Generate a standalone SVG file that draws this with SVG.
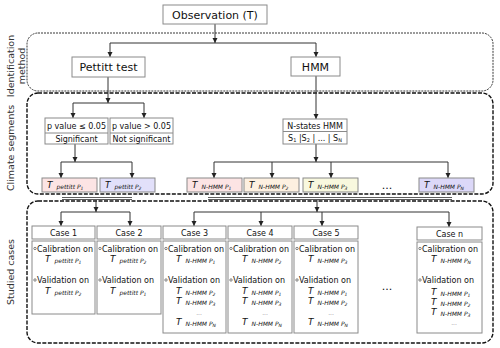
<svg xmlns="http://www.w3.org/2000/svg" width="500" height="348" viewBox="0 0 500 348">
<defs>
<style>
text{font-family:"DejaVu Sans","Liberation Sans",sans-serif;fill:#111}
.box{fill:#fff;stroke:#8a8a8a;stroke-width:1}
.big{font-size:11px;text-anchor:middle}
.sm{font-size:8px;text-anchor:middle}
.side{font-size:9.5px;text-anchor:middle;fill:#333}
.lbl{font-size:8px}
.T{font-size:9px;font-style:italic}
.sub{font-size:6px;font-style:italic}
.ss{font-size:4.5px;font-style:italic}
.dots{font-size:6px;fill:#888;text-anchor:middle}
.con{fill:none;stroke:#333;stroke-width:1}
.ul{fill:none;stroke:#333;stroke-width:0.8}
.arr{marker-end:url(#ah)}
.grp1{fill:none;stroke:#222;stroke-width:0.9;stroke-dasharray:2,1}
.grp2{fill:none;stroke:#111;stroke-width:1.4;stroke-dasharray:4,1.5}
.bul{fill:#fff;stroke:#333;stroke-width:0.6}
</style>
<marker id="ah" markerWidth="5" markerHeight="6" refX="5" refY="3" orient="auto" markerUnits="userSpaceOnUse">
<path d="M0,0.5 L5,3 L0,5.5 z" fill="#222"/>
</marker>
</defs>

<!-- group frames -->
<g id="frames">
<rect class="grp1" x="27" y="33" width="466" height="58" rx="11"/>
<rect class="grp2" x="27" y="93" width="466" height="101" rx="11"/>
<rect class="grp2" x="27" y="201" width="466" height="142" rx="11"/>
<text class="side" transform="translate(14,66) rotate(-90)">Identification</text>
<text class="side" transform="translate(25,66) rotate(-90)">method</text>
<text class="side" transform="translate(14,148) rotate(-90)">Climate segments</text>
<text class="side" transform="translate(14,272) rotate(-90)">Studied cases</text>
</g>

<g id="connectors">
<path class="con arr" d="M215,24 V43"/>
<path class="con" d="M110,43 H316"/>
<path class="con arr" d="M110,43 V57"/>
<path class="con arr" d="M316,43 V57"/>
<path class="con arr" d="M108,77 V103"/>
<path class="con" d="M73,103 H144"/>
<path class="con arr" d="M73,103 V118"/>
<path class="con arr" d="M144,103 V118"/>
<path class="con arr" d="M316,76 V119"/>
<path class="con arr" d="M75,144 V162"/>
<path class="con" d="M61,162 H132"/>
<path class="con arr" d="M61,162 V178"/>
<path class="con arr" d="M132,162 V178"/>
<path class="con arr" d="M316,144 V162"/>
<path class="con" d="M214,162 H448"/>
<path class="con arr" d="M214,162 V178"/>
<path class="con arr" d="M272,162 V178"/>
<path class="con arr" d="M331,162 V178"/>
<path class="con arr" d="M448,162 V178"/>
<path class="ul" d="M62,197.5 H132 M62,199.5 H132"/>
<path class="ul" d="M208,197.5 H452 M208,199.5 H452"/>
<path class="con arr" d="M96,200 V212"/>
<path class="con" d="M61,212 H130"/>
<path class="con arr" d="M61,212 V226"/>
<path class="con arr" d="M130,212 V226"/>
<path class="con arr" d="M317,200 V212"/>
<path class="con" d="M194,212 H449"/>
<path class="con arr" d="M194,212 V226"/>
<path class="con arr" d="M261,212 V226"/>
<path class="con arr" d="M322,212 V226"/>
<path class="con arr" d="M449,212 V227"/>
</g>

<g id="observation">
<rect class="box" x="163" y="5" width="104" height="19"/>
<text class="big" x="215" y="18.5">Observation (T)</text>
</g>
<g id="pettitt">
<rect class="box" x="72" y="57" width="73" height="20"/>
<text class="big" x="108.5" y="71">Pettitt test</text>
</g>
<g id="hmm">
<rect class="box" x="291" y="57" width="49" height="19"/>
<text class="big" x="315.5" y="70.5">HMM</text>
</g>

<g id="p-significant">
<rect class="box" x="45" y="118" width="63" height="26"/>
<path d="M45,133 H108" stroke="#8a8a8a" stroke-width="1"/>
<text class="sm" x="76.5" y="129">p value ≤ 0.05</text>
<text class="sm" x="76.5" y="141.5">Significant</text>
</g>
<g id="p-not-significant">
<rect class="box" x="110" y="118" width="63" height="26"/>
<path d="M110,133 H173" stroke="#8a8a8a" stroke-width="1"/>
<text class="sm" x="141.5" y="129">p value &gt; 0.05</text>
<text class="sm" x="141.5" y="141.5">Not significant</text>
</g>
<g id="nstates-hmm">
<rect class="box" x="283" y="119" width="64" height="25"/>
<path d="M283,131.5 H347" stroke="#8a8a8a" stroke-width="1"/>
<text class="sm" x="315" y="128.5">N-states HMM</text>
<text class="sm" x="315" y="141">S<tspan font-size="5" dy="1">1</tspan><tspan dy="-1"> |S</tspan><tspan font-size="5" dy="1">2</tspan><tspan dy="-1"> | ... | S</tspan><tspan font-size="5" dy="1">N</tspan></text>
</g>

<g id="t-pettitt-p1">
<rect class="box" x="42" y="178" width="55" height="14" style="fill:#fce4e4"/>
<text x="47" y="187.5"><tspan class="T">T</tspan><tspan class="sub" dx="4" dy="1">pettitt P</tspan><tspan class="ss" dy="1">1</tspan></text>
</g>
<g id="t-pettitt-p2">
<rect class="box" x="100" y="178" width="55" height="14" style="fill:#e2e0fa"/>
<text x="105" y="187.5"><tspan class="T">T</tspan><tspan class="sub" dx="4" dy="1">pettitt P</tspan><tspan class="ss" dy="1">2</tspan></text>
</g>
<g id="t-nhmm-p1">
<rect class="box" x="187" y="178" width="55" height="14" style="fill:#fce4e4"/>
<text x="192" y="187.5"><tspan class="T">T</tspan><tspan class="sub" dx="4" dy="1">N-HMM P</tspan><tspan class="ss" dy="1">1</tspan></text>
</g>
<g id="t-nhmm-p2">
<rect class="box" x="244" y="178" width="55" height="14" style="fill:#fdf0e0"/>
<text x="249" y="187.5"><tspan class="T">T</tspan><tspan class="sub" dx="4" dy="1">N-HMM P</tspan><tspan class="ss" dy="1">2</tspan></text>
</g>
<g id="t-nhmm-p3">
<rect class="box" x="303" y="178" width="55" height="14" style="fill:#f8f8de"/>
<text x="308" y="187.5"><tspan class="T">T</tspan><tspan class="sub" dx="4" dy="1">N-HMM P</tspan><tspan class="ss" dy="1">3</tspan></text>
</g>
<g id="segments-ellipsis">
<text x="387" y="189" font-size="11" text-anchor="middle">...</text>
</g>
<g id="t-nhmm-pn">
<rect class="box" x="419" y="178" width="55" height="14" style="fill:#dcd8f8"/>
<text x="424" y="187.5"><tspan class="T">T</tspan><tspan class="sub" dx="4" dy="1">N-HMM P</tspan><tspan class="ss" dy="1">N</tspan></text>
</g>

<!-- cases -->
<g id="case1">
<rect class="box" x="32" y="226" width="63" height="13"/>
<rect class="box" x="32" y="241" width="63" height="73"/>
<text class="sm" x="63.5" y="236">Case 1</text>
<circle class="bul" cx="35" cy="248.5" r="1.2"/>
<text class="lbl" x="37" y="251.5">Calibration on</text>
<text x="45" y="262"><tspan class="T">T</tspan><tspan class="sub" dx="4" dy="1">pettitt P</tspan><tspan class="ss" dy="1">1</tspan></text>
<circle class="bul" cx="35" cy="280" r="1.2"/>
<text class="lbl" x="37" y="283">Validation on</text>
<text x="45" y="294"><tspan class="T">T</tspan><tspan class="sub" dx="4" dy="1">pettitt P</tspan><tspan class="ss" dy="1">2</tspan></text>
</g>
<g id="case2">
<rect class="box" x="97" y="226" width="64" height="13"/>
<rect class="box" x="97" y="241" width="64" height="73"/>
<text class="sm" x="129" y="236">Case 2</text>
<circle class="bul" cx="100" cy="248.5" r="1.2"/>
<text class="lbl" x="102" y="251.5">Calibration on</text>
<text x="110" y="262"><tspan class="T">T</tspan><tspan class="sub" dx="4" dy="1">pettitt P</tspan><tspan class="ss" dy="1">2</tspan></text>
<circle class="bul" cx="100" cy="280" r="1.2"/>
<text class="lbl" x="102" y="283">Validation on</text>
<text x="110" y="294"><tspan class="T">T</tspan><tspan class="sub" dx="4" dy="1">pettitt P</tspan><tspan class="ss" dy="1">1</tspan></text>
</g>
<g id="case3">
<rect class="box" x="163" y="226" width="63" height="13"/>
<rect class="box" x="163" y="241" width="63" height="92"/>
<text class="sm" x="194.5" y="236">Case 3</text>
<circle class="bul" cx="166" cy="248.5" r="1.2"/>
<text class="lbl" x="168" y="251.5">Calibration on</text>
<text x="176" y="262"><tspan class="T">T</tspan><tspan class="sub" dx="4" dy="1">N-HMM P</tspan><tspan class="ss" dy="1">1</tspan></text>
<circle class="bul" cx="166" cy="280" r="1.2"/>
<text class="lbl" x="168" y="283">Validation on</text>
<text x="176" y="294"><tspan class="T">T</tspan><tspan class="sub" dx="4" dy="1">N-HMM P</tspan><tspan class="ss" dy="1">2</tspan></text>
<text x="176" y="304"><tspan class="T">T</tspan><tspan class="sub" dx="4" dy="1">N-HMM P</tspan><tspan class="ss" dy="1">3</tspan></text>
<text class="dots" x="199" y="315">...</text>
<text x="176" y="325"><tspan class="T">T</tspan><tspan class="sub" dx="4" dy="1">N-HMM P</tspan><tspan class="ss" dy="1">N</tspan></text>
</g>
<g id="case4">
<rect class="box" x="228" y="226" width="64" height="13"/>
<rect class="box" x="228" y="241" width="64" height="92"/>
<text class="sm" x="260" y="236">Case 4</text>
<circle class="bul" cx="231" cy="248.5" r="1.2"/>
<text class="lbl" x="233" y="251.5">Calibration on</text>
<text x="242" y="262"><tspan class="T">T</tspan><tspan class="sub" dx="4" dy="1">N-HMM P</tspan><tspan class="ss" dy="1">2</tspan></text>
<circle class="bul" cx="231" cy="280" r="1.2"/>
<text class="lbl" x="233" y="283">Validation on</text>
<text x="242" y="294"><tspan class="T">T</tspan><tspan class="sub" dx="4" dy="1">N-HMM P</tspan><tspan class="ss" dy="1">1</tspan></text>
<text x="242" y="304"><tspan class="T">T</tspan><tspan class="sub" dx="4" dy="1">N-HMM P</tspan><tspan class="ss" dy="1">3</tspan></text>
<text class="dots" x="265" y="315">...</text>
<text x="242" y="325"><tspan class="T">T</tspan><tspan class="sub" dx="4" dy="1">N-HMM P</tspan><tspan class="ss" dy="1">N</tspan></text>
</g>
<g id="case5">
<rect class="box" x="294" y="226" width="64" height="13"/>
<rect class="box" x="294" y="241" width="64" height="92"/>
<text class="sm" x="326" y="236">Case 5</text>
<circle class="bul" cx="297" cy="248.5" r="1.2"/>
<text class="lbl" x="299" y="251.5">Calibration on</text>
<text x="308" y="262"><tspan class="T">T</tspan><tspan class="sub" dx="4" dy="1">N-HMM P</tspan><tspan class="ss" dy="1">3</tspan></text>
<circle class="bul" cx="297" cy="280" r="1.2"/>
<text class="lbl" x="299" y="283">Validation on</text>
<text x="308" y="294"><tspan class="T">T</tspan><tspan class="sub" dx="4" dy="1">N-HMM P</tspan><tspan class="ss" dy="1">1</tspan></text>
<text x="308" y="304"><tspan class="T">T</tspan><tspan class="sub" dx="4" dy="1">N-HMM P</tspan><tspan class="ss" dy="1">2</tspan></text>
<text class="dots" x="331" y="315">...</text>
<text x="308" y="325"><tspan class="T">T</tspan><tspan class="sub" dx="4" dy="1">N-HMM P</tspan><tspan class="ss" dy="1">N</tspan></text>
</g>
<g id="cases-ellipsis">
<text x="387" y="290" font-size="11" text-anchor="middle">...</text>
</g>
<g id="casen">
<rect class="box" x="417" y="227" width="65" height="13"/>
<rect class="box" x="417" y="242" width="65" height="91"/>
<text class="sm" x="449.5" y="237">Case n</text>
<circle class="bul" cx="420" cy="248.5" r="1.2"/>
<text class="lbl" x="422" y="251.5">Calibration on</text>
<text x="431" y="262"><tspan class="T">T</tspan><tspan class="sub" dx="4" dy="1">N-HMM P</tspan><tspan class="ss" dy="1">N</tspan></text>
<circle class="bul" cx="420" cy="280" r="1.2"/>
<text class="lbl" x="422" y="283">Validation on</text>
<text x="431" y="295"><tspan class="T">T</tspan><tspan class="sub" dx="4" dy="1">N-HMM P</tspan><tspan class="ss" dy="1">1</tspan></text>
<text x="431" y="305"><tspan class="T">T</tspan><tspan class="sub" dx="4" dy="1">N-HMM P</tspan><tspan class="ss" dy="1">2</tspan></text>
<text x="431" y="314.5"><tspan class="T">T</tspan><tspan class="sub" dx="4" dy="1">N-HMM P</tspan><tspan class="ss" dy="1">3</tspan></text>
<text class="dots" x="454" y="325">...</text>
</g>
</svg>
